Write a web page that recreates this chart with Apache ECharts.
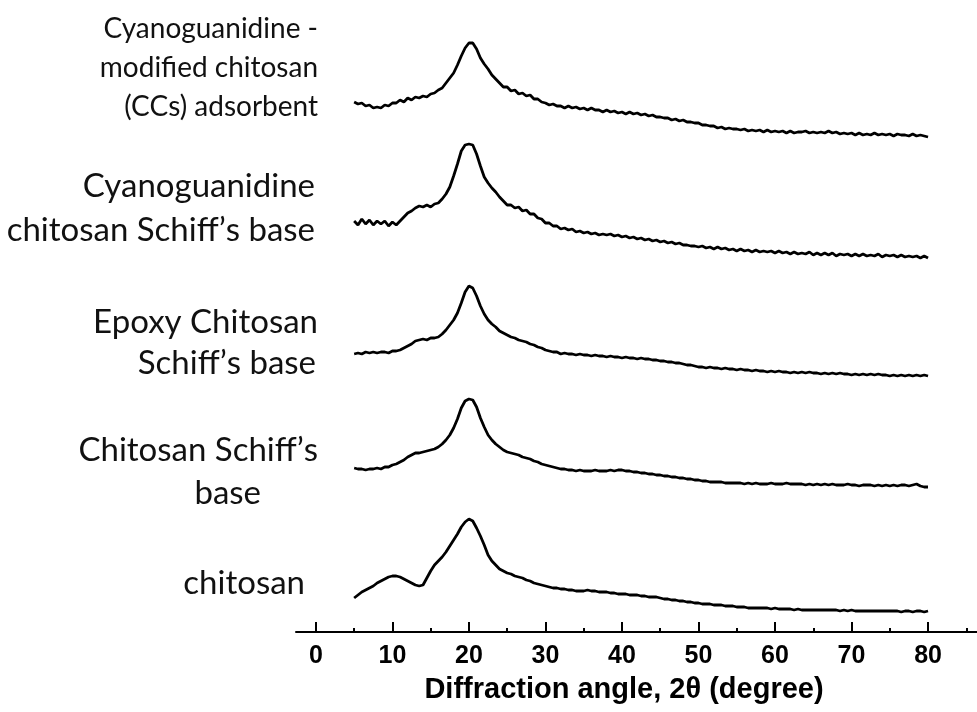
<!DOCTYPE html>
<html>
<head>
<meta charset="utf-8">
<title>XRD patterns</title>
<script src="https://cdn.jsdelivr.net/npm/echarts@6/dist/echarts.min.js"></script>
<style>
  html, body { margin: 0; padding: 0; background: #fff; }
  #chart { width: 977px; height: 712px; }
</style>
</head>
<body>
<div id="chart"></div>
<script>
// Diffraction angle 2θ (degree) sampled every 0.5°
const angles = [
  5,5.5,6,6.5,7,7.5,8,8.5,9,9.5,10,10.5,11,11.5,12,12.5,13,13.5,14,14.5,
  15,15.5,16,16.5,17,17.5,18,18.5,19,19.5,20,20.5,21,21.5,22,22.5,23,23.5,24,24.5,
  25,25.5,26,26.5,27,27.5,28,28.5,29,29.5,30,30.5,31,31.5,32,32.5,33,33.5,34,34.5,
  35,35.5,36,36.5,37,37.5,38,38.5,39,39.5,40,40.5,41,41.5,42,42.5,43,43.5,44,44.5,
  45,45.5,46,46.5,47,47.5,48,48.5,49,49.5,50,50.5,51,51.5,52,52.5,53,53.5,54,54.5,
  55,55.5,56,56.5,57,57.5,58,58.5,59,59.5,60,60.5,61,61.5,62,62.5,63,63.5,64,64.5,
  65,65.5,66,66.5,67,67.5,68,68.5,69,69.5,70,70.5,71,71.5,72,72.5,73,73.5,74,74.5,
  75,75.5,76,76.5,77,77.5,78,78.5,79,79.5,80
];

// Stacked intensities (a.u.), top trace first
const ccsAdsorbent = [
  530,528,529,526,527,524,525,524,527,526,529,529,532,530,534,532,535,534,536,535,
  538,539,542,544,549,554,559,567,576,584,589,589,583,574,568,563,557,553,549,545,
  545,541,542,538,539,536,537,533,533,530,529,527,528,526,526,524,526,524,525,523,
  524,522,524,522,522,520,522,520,521,519,520,518,520,518,519,517,518,516,517,515,
  515,514,514,512,513,511,512,510,510,509,509,507,507,506,506,504,505,503,504,503,
  503,502,503,501,502,501,502,500,502,500,501,500,501,499,501,499,500,500,501,499,
  500,499,500,499,501,499,500,498,499,498,499,497,499,497,498,497,499,497,498,497,
  498,496,498,497,497,496,498,496,497,496,495
];
const cyanoSchiffBase = [
  411,407,413,408,412,407,411,408,411,406,410,407,411,415,419,421,424,426,425,427,
  425,428,429,433,438,445,456,468,481,487,488,487,478,466,455,449,444,440,435,431,
  427,427,424,425,421,422,418,418,414,413,409,409,406,406,403,404,402,403,400,401,
  399,400,398,399,397,398,397,398,396,397,395,396,394,395,393,394,392,393,391,392,
  390,391,389,390,388,389,387,387,386,386,385,386,384,385,383,385,383,384,382,383,
  381,383,381,382,380,382,380,381,380,381,379,381,379,380,378,380,378,379,378,380,
  377,379,377,379,377,379,376,378,377,378,376,378,376,378,376,377,376,378,375,377,
  376,377,375,377,375,376,375,376,374,376,374
];
const epoxySchiffBase = [
  278,279,278,280,279,280,279,280,280,279,281,281,282,284,286,288,291,292,293,292,
  294,294,295,298,302,307,312,319,329,340,346,344,336,326,318,312,308,305,301,299,
  297,295,294,292,291,290,288,287,285,284,282,281,280,280,278,279,278,278,277,278,
  277,277,276,277,276,276,275,276,275,275,274,275,274,274,273,274,273,273,272,272,
  271,271,270,270,269,269,268,267,267,266,265,265,264,265,264,264,263,264,263,263,
  262,263,262,262,261,262,261,261,260,261,260,261,260,260,259,260,259,260,259,260,
  259,259,258,259,258,259,258,259,258,258,257,258,257,258,257,258,257,258,257,257,
  256,257,256,257,256,257,256,257,256,257,256
];
const chitosanSchiffBase = [
  164,163,163,162,163,163,164,163,165,165,167,168,170,172,175,177,179,179,180,181,
  182,183,185,188,192,197,204,213,224,231,233,232,225,214,205,197,192,188,185,182,
  180,179,178,177,175,174,173,171,170,168,167,166,165,164,163,163,162,162,161,162,
  161,161,161,162,161,161,161,162,161,162,162,161,161,160,160,159,159,158,158,157,
  157,156,156,155,155,154,154,153,153,152,152,151,151,150,150,150,150,149,149,149,
  149,149,148,149,148,149,148,148,148,149,148,148,148,149,148,148,148,148,147,148,
  147,148,147,148,147,148,147,147,147,148,147,147,146,147,147,147,146,147,146,147,
  146,147,146,147,147,146,147,148,146,145,145
];
const chitosan = [
  34,37,40,42,44,46,49,51,53,55,56,56,55,53,51,49,47,46,47,54,
  61,67,71,75,80,86,92,98,105,110,113,111,104,96,87,77,71,67,63,61,
  59,58,56,55,54,52,51,49,48,47,46,45,44,44,43,43,42,42,41,41,
  41,42,41,41,40,40,40,39,39,38,38,38,37,37,37,36,36,35,35,35,
  34,33,33,32,32,31,31,30,30,29,29,28,28,28,27,27,27,26,26,26,
  25,25,25,24,24,24,24,24,24,23,24,23,23,23,23,22,23,22,22,22,
  22,22,22,22,22,22,22,21,22,21,22,21,21,21,21,21,21,21,21,21,
  21,21,21,20,21,21,20,21,21,20,21
];

const majorTicks = [0, 10, 20, 30, 40, 50, 60, 70, 80];
const minorTicks = [5, 15, 25, 35, 45, 55, 65, 75, 85];

const traces = [
  { name: 'Cyanoguanidine - modified chitosan (CCs) adsorbent', values: ccsAdsorbent },
  { name: 'Cyanoguanidine chitosan Schiff\u2019s base', values: cyanoSchiffBase },
  { name: 'Epoxy Chitosan Schiff\u2019s base', values: epoxySchiffBase },
  { name: 'Chitosan Schiff\u2019s base', values: chitosanSchiffBase },
  { name: 'chitosan', values: chitosan }
];

// Sample labels placed to the left of each trace
const labelFont = 'Lato, "Open Sans", sans-serif';
const traceLabels = [
  { lines: ['Cyanoguanidine -', 'modified chitosan', '(CCs) adsorbent'], right: 318, ys: [29, 68, 107], size: 28 },
  { lines: ['Cyanoguanidine'], right: 315, ys: [186], size: 33 },
  { lines: ['chitosan Schiff\u02BCs base'], right: 315, ys: [230], size: 33 },
  { lines: ['Epoxy Chitosan'], right: 318, ys: [322], size: 33 },
  { lines: ['Schiff\u02BCs base'], right: 316, ys: [363], size: 33 },
  { lines: ['Chitosan Schiff\u02BCs'], right: 318, ys: [450], size: 33 },
  { lines: ['base'], right: 261, ys: [493], size: 33 },
  { lines: ['chitosan'], right: 305, ys: [583], size: 33 }
];

const graphics = [];
traceLabels.forEach(function (g) {
  g.lines.forEach(function (line, i) {
    graphics.push({
      type: 'text',
      x: g.right,
      y: g.ys[i],
      silent: true,
      style: {
        text: line,
        fill: '#111',
        fontSize: g.size,
        fontFamily: labelFont,
        align: 'right',
        verticalAlign: 'middle'
      }
    });
  });
});
graphics.push({
  type: 'text',
  x: 624,
  y: 690,
  silent: true,
  style: {
    text: 'Diffraction angle, 2\u03B8 (degree)',
    fill: '#000',
    fontSize: 29,
    fontWeight: 'bold',
    fontFamily: '"Liberation Sans", Arial, sans-serif',
    align: 'center',
    verticalAlign: 'middle'
  }
});

const chart = echarts.init(document.getElementById('chart'), null, { renderer: 'canvas' });

const xRange = { min: -2.6, max: 86.4 };

chart.setOption({
  backgroundColor: '#fff',
  animation: false,
  grid: { left: 296, right: 0, top: 0, bottom: 80, containLabel: false },
  xAxis: [
    {
      type: 'value',
      min: xRange.min,
      max: xRange.max,
      position: 'bottom',
      offset: 0,
      splitLine: { show: false },
      axisLine: { show: true, onZero: false, lineStyle: { color: '#000', width: 2 } },
      axisTick: { show: true, inside: true, length: 10, customValues: majorTicks, lineStyle: { color: '#000', width: 2 } },
      axisLabel: {
        show: true,
        customValues: majorTicks,
        margin: 12,
        color: '#000',
        fontSize: 25,
        fontWeight: 'bold',
        fontFamily: '"Liberation Sans", Arial, sans-serif'
      }
    },
    {
      type: 'value',
      min: xRange.min,
      max: xRange.max,
      position: 'bottom',
      offset: 0,
      splitLine: { show: false },
      axisLine: { show: false, onZero: false },
      axisTick: { show: true, inside: true, length: 4, customValues: minorTicks, lineStyle: { color: '#000', width: 2 } },
      axisLabel: { show: false }
    }
  ],
  yAxis: {
    type: 'value',
    min: 0,
    max: 632,
    show: false
  },
  series: traces.map(function (t) {
    return {
      name: t.name,
      type: 'line',
      xAxisIndex: 0,
      showSymbol: false,
      symbol: 'none',
      smooth: false,
      lineStyle: { color: '#000', width: 2.8 },
      data: angles.map(function (a, i) { return [a, t.values[i]]; })
    };
  }),
  graphic: graphics
});
</script>
</body>
</html>
